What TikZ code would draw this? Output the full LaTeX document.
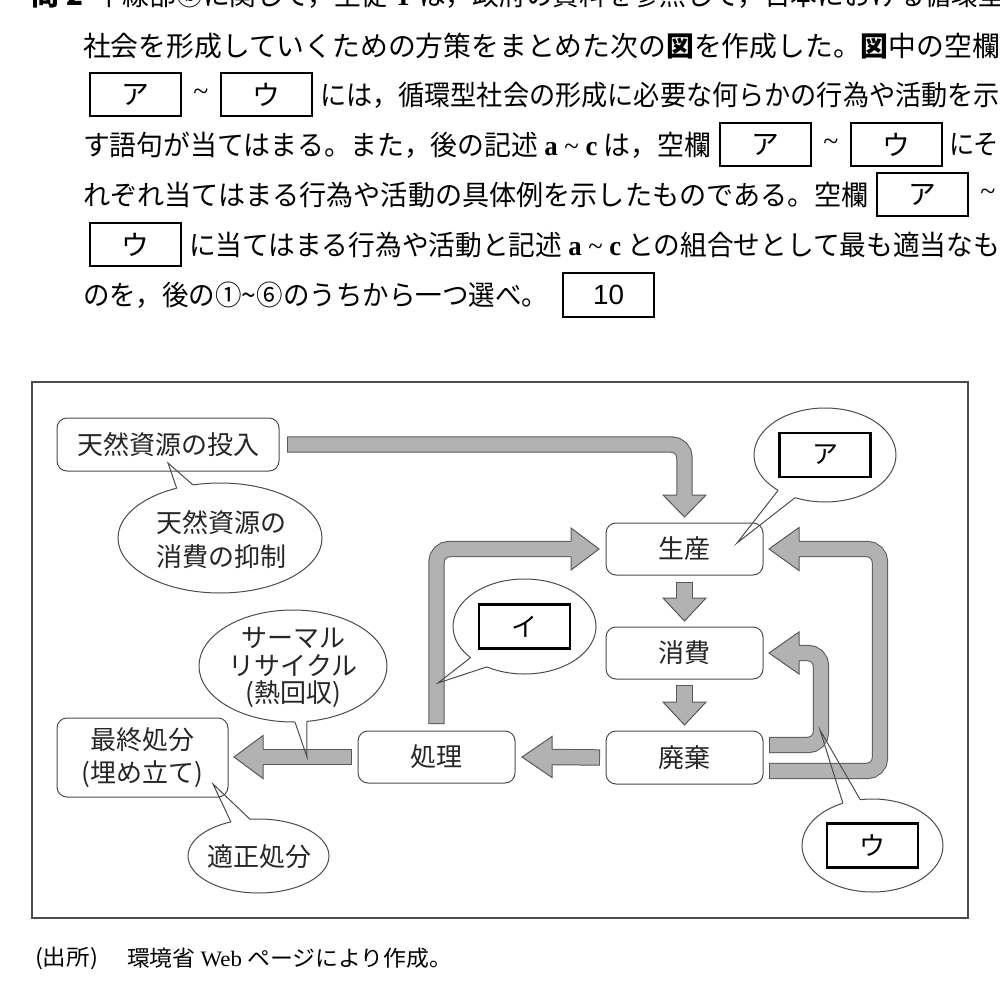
\documentclass[tikz,border=0pt]{standalone}
\usepackage{graphicx}
\usepackage{fontspec}
\setmainfont{Noto Sans CJK JP}
\newfontfamily\ser{Liberation Serif}
\newfontfamily\lsans{Liberation Sans}
\usetikzlibrary{shapes.geometric,calc}
\newcommand{\fitw}[2]{\resizebox{#1}{\height}{#2}}
\newcommand{\pf}{\fontsize{13.9}{16}\selectfont}
\newcommand{\df}{\fontsize{13}{17}\selectfont}
\newcommand{\cf}{\fontsize{11}{13}\selectfont}
\tikzset{
  every node/.style={inner sep=0pt, outer sep=0pt},
  ptext/.style={font=\pf, text=black},
  pblank/.style={draw=black, line width=1pt, minimum width=45.5pt, minimum height=21.5pt, font=\pf},
  dtext/.style={font=\df, text=black!85},
  rbox/.style={draw=black!70, line width=0.5pt, rounded corners=5pt, fill=white, font=\df, text=black!85, minimum width=78.5pt, minimum height=26pt},
  callout/.style={ellipse, draw=black!70, line width=0.5pt, fill=white},
  dblank/.style={draw=black, line width=1.4pt, fill=white, minimum width=45.5pt, minimum height=22pt, font=\df, text=black},
  barout/.style={draw=black!65, line width=8.2pt, rounded corners=6.5pt},
  barin/.style={draw=black!30, line width=7.2pt, rounded corners=6.5pt, shorten <=0.5pt},
  tailln/.style={draw=black!70, line width=0.5pt, line join=miter},
}
\newcommand{\fbar}[1]{\draw[barout] #1; \draw[barin] #1;}
\newcommand{\fhead}[4]{%
  \begin{scope}[shift={#1},rotate=#2]
    \fill[black!30] (0,0) -- (-#3,#4) -- (-#3,-#4) -- cycle;
    \draw[black!65, line width=0.5pt, line join=miter] (-#3,7.7) -- (-#3,#4) -- (0,0) -- (-#3,-#4) -- (-#3,-7.7);
  \end{scope}}
\newcommand{\tailfill}[4]{%
  \fill[white] ($(#1.center)!0.85!(#1.#2)$) -- (#1.#2) -- #4 -- (#1.#3) -- ($(#1.center)!0.85!(#1.#3)$) -- cycle;}
\newcommand{\tailline}[4]{\draw[tailln] (#1.#2) -- #4 -- (#1.#3);}
\begin{document}
\begin{tikzpicture}[x=0.5pt,y=-0.5pt]
\useasboundingbox[fill=white] (0,0) rectangle (1000,989);

% ---------- question text ----------
\node[ptext, anchor=west] (q0) at (32,-5) {\textbf{問 2}};
\node[ptext, anchor=west] (q1) at (96,-5) {\fitw{454.5pt}{下線部ⓑに関して，生徒 {\ser\textbf{Y}} は，政府の資料を参照して，日本における循環型}};

\node[ptext, anchor=west] (l2) at (83,46) {\fitw{458.5pt}{社会を形成していくための方策をまとめた次の\textbf{図}を作成した。\textbf{図}中の空欄}};

\node[pblank] (b3a) at (135.5,94.5) {ア};
\node[ptext] (t3) at (201,95) {\ser\textasciitilde};
\node[pblank] (b3u) at (266.5,94.5) {ウ};
\node[ptext, anchor=west] (l3) at (320,95) {\fitw{340pt}{には，循環型社会の形成に必要な何らかの行為や活動を示}};

\node[ptext, anchor=west] (l4) at (83,145) {\fitw{314pt}{す語句が当てはまる。また，後の記述 {\ser\textbf{a} \textasciitilde\ \textbf{c}} は，空欄}};
\node[pblank] (b4a) at (765,144.5) {ア};
\node[ptext] (t4) at (831,145) {\ser\textasciitilde};
\node[pblank] (b4u) at (896.5,144.5) {ウ};
\node[ptext, anchor=west] (l4b) at (949,145) {\fitw{25pt}{にそ}};

\node[ptext, anchor=west] (l5) at (83,195) {\fitw{393pt}{れぞれ当てはまる行為や活動の具体例を示したものである。空欄}};
\node[pblank] (b5a) at (922.5,194.5) {ア};
\node[ptext] (t5) at (988,195) {\ser\textasciitilde};

\node[pblank] (b6u) at (135.5,244.5) {ウ};
\node[ptext, anchor=west] (l6) at (189,245) {\fitw{405.5pt}{に当てはまる行為や活動と記述 {\ser\textbf{a} \textasciitilde\ \textbf{c}} との組合せとして最も適当なも}};

\node[ptext, anchor=west] (l7) at (83,295) {\fitw{232.5pt}{のを，後の①\textasciitilde⑥のうちから一つ選べ。}};
\node[pblank, minimum height=22pt] (b10) at (608.5,295) {\lsans 10};

% ---------- frame ----------
\node[draw=black!70, line width=0.75pt, minimum width=468pt, minimum height=268pt] (frame) at (500,650) {};

% ---------- callouts ----------
\node[callout, minimum width=102pt, minimum height=55pt] (yok) at (220,538) {};
\node[callout, minimum width=94pt, minimum height=56pt] (therm) at (293,666) {};
\node[callout, minimum width=70.5pt, minimum height=37pt] (tek) at (258.5,856) {};
\node[callout, minimum width=71pt, minimum height=47pt] (ca) at (825,455) {};
\node[callout, minimum width=71.5pt, minimum height=47.5pt] (ci) at (524.5,626.5) {};
\node[callout, minimum width=70.5pt, minimum height=46.5pt] (cu) at (872.5,845.5) {};

\tailfill{yok}{131}{117}{(168,463)}
\tailfill{therm}{272}{284}{(307,757)}
\tailfill{tek}{129}{103}{(213,784)}
\tailfill{ca}{217}{235}{(737,543)}
\tailfill{ci}{210}{227}{(438,683)}
\tailfill{cu}{125}{105}{(820,730)}

\node[dtext, align=center] (yokt) at (221,540) {天然資源の\\消費の抑制};
\node[font=\fontsize{13}{13.75}\selectfont, text=black!85, align=center] (thermt) at (293,667.5) {サーマル\\リサイクル\\(熱回収)};
\node[dtext] (tekt) at (259,857) {適正処分};
\node[dblank] (ba) at (ca.center) {ア};
\node[dblank] (bi) at (ci.center) {イ};
\node[dblank] (bu) at (cu.center) {ウ};

% ---------- boxes ----------
\node[rbox, minimum width=111pt, minimum height=26.5pt] (tennen) at (168,444.5) {天然資源の投入};
\node[rbox] (seisan) at (684.5,549) {生産};
\node[rbox] (shohi) at (684.5,653) {消費};
\node[rbox, minimum height=26.5pt] (haiki) at (684.5,757.5) {廃棄};
\node[rbox] (shori) at (436.5,757) {処理};
\node[rbox, minimum width=85.5pt, minimum height=39.5pt, align=center, font=\fontsize{13}{16.5}\selectfont] (saishu) at (142.5,757.5) {最終処分\\(埋め立て)};

% ---------- block arrows ----------
\fbar{($(tennen.east)+(8,0)$) -| ($(seisan.north)+(0,-26)$)}
\fbar{($(seisan.south)+(0,7)$) -- ($(shohi.north)+(0,-27)$)}
\fbar{($(shohi.south)+(0,6)$) -- ($(haiki.north)+(0,-27)$)}
\fbar{($(haiki.west)+(-6,0)$) -- ($(shori.east)+(35,0)$)}
\fbar{($(shori.west)+(-6,0)$) -- ($(saishu.east)+(33,-0.5)$)}
\fbar{($(shori.north)+(0,-7)$) |- ($(seisan.west)+(-33,0)$)}
\fbar{($(haiki.east)+(6,13.5)$) -- ++(111,0) |- ($(seisan.east)+(34,0)$)}
\fbar{($(haiki.east)+(6,-12.5)$) -- ++(52,0) |- ($(shohi.east)+(34,0)$)}

\fhead{($(seisan.north)+(0,-6)$)}{-90}{22}{21.5}
\fhead{($(shohi.north)+(0,-6)$)}{-90}{23}{21.5}
\fhead{($(haiki.north)+(0,-6)$)}{-90}{23}{21.5}
\fhead{($(shori.east)+(7,0)$)}{180}{30}{20.5}
\fhead{($(saishu.east)+(6,-0.5)$)}{180}{29}{21.5}
\fhead{($(seisan.west)+(-7,0)$)}{0}{28}{21}
\fhead{($(seisan.east)+(6,0)$)}{180}{30}{21.5}
\fhead{($(shohi.east)+(6,0)$)}{180}{30}{21}

% ---------- callout tails ----------
\tailline{yok}{131}{117}{(168,463)}
\tailline{therm}{272}{284}{(307,757)}
\tailline{tek}{129}{103}{(213,784)}
\tailline{ca}{217}{235}{(737,543)}
\tailline{ci}{210}{227}{(438,683)}
\tailline{cu}{125}{105}{(820,730)}

% ---------- source ----------
\node[font=\cf, anchor=west] (src1) at (35,958) {\fitw{31.5pt}{(出所)}};
\node[font=\cf, anchor=west] (src2) at (127,958) {\fitw{162.5pt}{環境省 {\ser Web} ページにより作成。}};
\end{tikzpicture}
\end{document}
